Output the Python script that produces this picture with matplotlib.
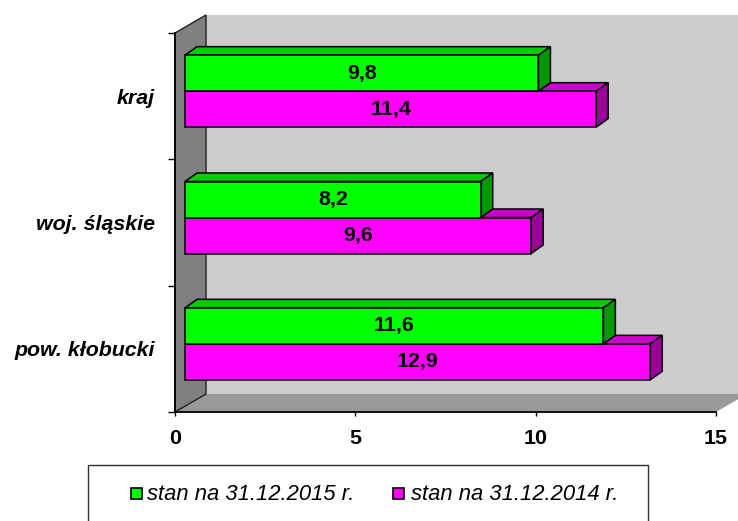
import matplotlib
matplotlib.use("Agg")
import matplotlib.pyplot as plt
from matplotlib.patches import Polygon, Rectangle

# ---- data ----
categories = ["pow. kłobucki", "woj. śląskie", "kraj"]
series_names = ["stan na 31.12.2015 r.", "stan na 31.12.2014 r."]
values_2015 = [11.6, 8.2, 9.8]
values_2014 = [12.9, 9.6, 11.4]
labels_2015 = ["11,6", "8,2", "9,8"]
labels_2014 = ["12,9", "9,6", "11,4"]
x_ticks = [0, 5, 10, 15]

# ---- style ----
FONT = "Liberation Sans"
FS = 15.4
GREEN = ("#00FF00", "#00CC00", "#009900")
MAGENTA = ("#FF00FF", "#CC00CC", "#990099")

W, H = 738, 521
fig = plt.figure(figsize=(W / 100, H / 100), dpi=100)
L, R, T, B = 175, 716, 33, 412  # front plane box (px)
ax = fig.add_axes([L / W, (H - B) / H, (R - L) / W, (B - T) / H])
XMIN, XMAX, YMIN, YMAX = 0, 15, -0.5, 2.5
ax.set_xlim(XMIN, XMAX)
ax.set_ylim(YMIN, YMAX)
ax.patch.set_visible(False)

ux = (XMAX - XMIN) / (R - L)
uy = (YMAX - YMIN) / (B - T)


def off(dx, dy):
    return dx * ux, dy * uy


# walls
wx, wy = off(31, 18)
back = Polygon([(XMIN + wx, YMIN + wy), (XMAX + wx + 2, YMIN + wy),
                (XMAX + wx + 2, YMAX + wy), (XMIN + wx, YMAX + wy)],
               closed=True, fc="#CCCCCC", ec="none", clip_on=False, zorder=0)
floor = Polygon([(XMIN, YMIN), (XMAX, YMIN), (XMAX + wx, YMIN + wy), (XMIN + wx, YMIN + wy)],
                closed=True, fc="#999999", ec="none", clip_on=False, zorder=0.5)
left = Polygon([(XMIN, YMIN), (XMIN + wx, YMIN + wy), (XMIN + wx, YMAX + wy), (XMIN, YMAX)],
               closed=True, fc="#808080", ec="#202020", lw=1.0, clip_on=False, zorder=0.6)
for p in (back, floor, left):
    ax.add_patch(p)

# bars
bx, by = off(10, 5)       # bar front plane offset
bdx, bdy = off(12, 8.5)   # bar depth
bh = 36 * uy              # bar height


def bar3d(x0, y0, v, cols, text):
    ax.barh([y0 + bh / 2], [v], height=bh, left=x0, color=cols[0],
            edgecolor="black", linewidth=1.1, zorder=3, clip_on=False)
    top = Polygon([(x0, y0 + bh), (x0 + v, y0 + bh), (x0 + v + bdx, y0 + bh + bdy),
                   (x0 + bdx, y0 + bh + bdy)], closed=True, fc=cols[1], ec="black",
                  lw=1.1, zorder=2, clip_on=False)
    side = Polygon([(x0 + v, y0), (x0 + v + bdx, y0 + bdy), (x0 + v + bdx, y0 + bh + bdy),
                    (x0 + v, y0 + bh)], closed=True, fc=cols[2], ec="black",
                   lw=1.1, zorder=2, clip_on=False)
    ax.add_patch(top)
    ax.add_patch(side)
    ax.text(x0 + v / 2, y0 + bh / 2, text, ha="center", va="center",
            fontsize=FS, fontweight="bold", family=FONT, zorder=4)


for i in range(len(categories)):
    c = i + by
    # lower bar first (magenta), then upper (green)
    bar3d(bx, c - bh, values_2014[i], MAGENTA, labels_2014[i])
for i in range(len(categories)):
    c = i + by
    bar3d(bx, c, values_2015[i], GREEN, labels_2015[i])

# axes
for s in ("top", "right"):
    ax.spines[s].set_visible(False)
for s in ("left", "bottom"):
    ax.spines[s].set_color("black")
    ax.spines[s].set_linewidth(1.3)
    ax.spines[s].set_zorder(5)

ax.set_xticks(x_ticks)
ax.set_xticklabels([str(t) for t in x_ticks], fontsize=FS, fontweight="bold", family=FONT)
ax.tick_params(axis="x", direction="out", length=3, width=1, pad=9.5)

ax.set_yticks([-0.5, 0.5, 1.5, 2.5])
ax.set_yticklabels([])
ax.tick_params(axis="y", which="major", direction="out", length=5, width=1)
ax.set_yticks(range(len(categories)), minor=True)
ax.set_yticklabels(categories, minor=True, fontsize=FS, fontweight="bold",
                   fontstyle="italic", family=FONT)
ax.tick_params(axis="y", which="minor", length=0, pad=14.5)

# legend (manual)
def fx(p):
    return p / W


def fy(p):
    return (H - p) / H


fig.add_artist(Rectangle((fx(88), fy(540)), fx(648) - fx(88), fy(465) - fy(540),
                         transform=fig.transFigure, fc="white", ec="#303030", lw=1.0))
for (sx, tx, name, col) in ((131, 147, series_names[0], GREEN[0]),
                            (393, 411, series_names[1], MAGENTA[0])):
    fig.add_artist(Rectangle((fx(sx), fy(499)), fx(11), 11 / H, transform=fig.transFigure,
                             fc=col, ec="black", lw=1.2))
    fig.text(fx(tx), fy(494), name, ha="left", va="center", fontsize=15.8,
             fontstyle="italic", family=FONT)

fig.savefig("out.png", dpi=100)
